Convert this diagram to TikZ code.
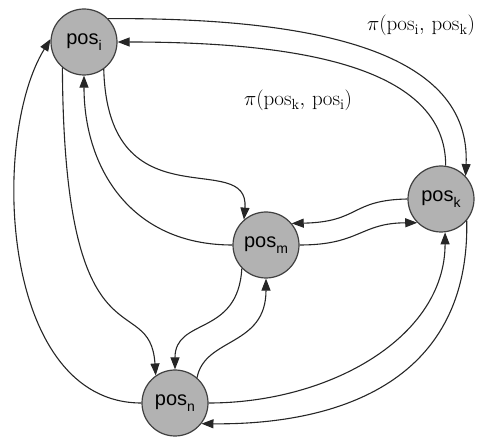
\documentclass[tikz,border=0pt]{standalone}
\usepackage{fontspec}
\setsansfont{Liberation Sans}
\usetikzlibrary{arrows.meta}

\newcommand{\posname}[1]{pos\raisebox{-6pt}{\fontsize{14}{14}\selectfont #1}}

\begin{document}
\begin{tikzpicture}[x=1pt, y=1pt,
    >={Triangle[length=12pt, width=9pt]},
    posnode/.style={circle, draw=black!75, line width=1.2pt, fill=black!30,
        minimum size=66pt, inner sep=0pt, font=\sffamily\fontsize{20}{20}\selectfont},
    link/.style={->, line width=1.1pt, draw=black!85},
    pilabel/.style={font=\fontsize{21}{21}\selectfont}]

    \useasboundingbox (0,0) rectangle (480,437);

    % States
    \node[posnode] (posi) at (84,395) {\posname{i}};
    \node[posnode] (posk) at (441,238) {\posname{k}};
    \node[posnode] (posm) at (266,192) {\posname{m}};
    \node[posnode] (posn) at (175,34) {\posname{n}};

    % Labels of the upper pair
    \node[pilabel] (lik) at (421,412) {$\pi(\mathrm{pos}_\mathrm{i},\,\mathrm{pos}_\mathrm{k})$};
    \node[pilabel] (lki) at (298,337) {$\pi(\mathrm{pos}_\mathrm{k},\,\mathrm{pos}_\mathrm{i})$};

    % i <-> k
    \draw[link] (posi.44) .. controls (380,420) and (470,360) .. (posk.43);
    \draw[link] (posk.82) .. controls (446,370) and (300,395) .. (posi.east);

    % i <-> m
    \draw[link] (posi.-54) .. controls (108,210) and (250,290) .. (posm.131);
    \draw[link] (posm.west) .. controls (130,192) and (84,270) .. (posi.south);

    % i <-> n
    \draw[link] (posi.-130) .. controls (64,60) and (150,150) .. (posn.125);
    \draw[link] (posn.west) .. controls (0,34) and (-10,300) .. (posi.175);

    % k <-> m
    \draw[link] (posk.west) .. controls (350,237) and (360,215) .. (posm.40);
    \draw[link] (posm.east) .. controls (360,192) and (360,214) .. (posk.225);

    % m <-> n
    \draw[link] (posm.224) .. controls (238,100) and (175,120) .. (posn.north);
    \draw[link] (posn.49) .. controls (205,100) and (266,90) .. (posm.south);

    % n <-> k
    \draw[link] (posn.east) .. controls (330,34) and (445,100) .. (posk.-83);
    \draw[link] (posk.-40) .. controls (470,50) and (330,12) .. (posn.-38);

\end{tikzpicture}
\end{document}
